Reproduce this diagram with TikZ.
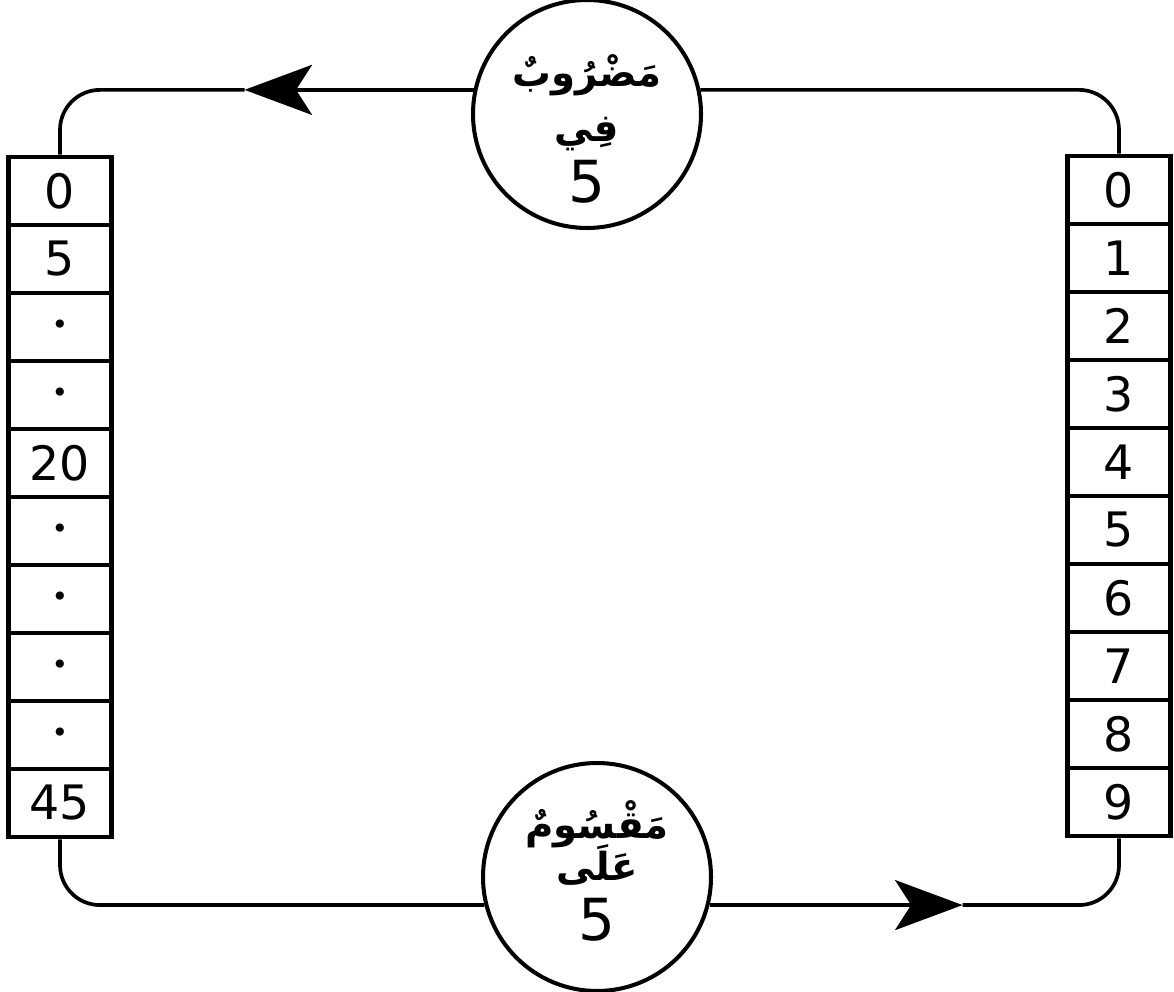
\documentclass[tikz,border=0pt]{standalone}
\usepackage{fontspec}
\setmainfont{DejaVu Sans}
\newfontfamily\arabicfont[Script=Arabic]{DejaVu Sans}
\TeXXeTstate=1
\usetikzlibrary{arrows.meta}

\tikzset{
  cell/.style={draw,line width=2.8pt,minimum width=2.06cm,minimum height=1.36cm,
    inner sep=0pt,font=\fontsize{27}{27}\selectfont},
  op/.style={draw,circle,line width=2.3pt,minimum size=4.56cm,inner sep=0pt},
  optext/.style={align=center,inner sep=0pt,font=\fontsize{22}{30}\selectfont},
  flow/.style={line width=2.1pt,rounded corners=0.8cm},
  tip/.style={-{Stealth[length=1.35cm,width=1cm,inset=0.32cm]}}
}
\newcommand{\arw}[1]{{\arabicfont\bfseries\beginR #1\endR}}
\newcommand{\bignum}[1]{{\fontsize{33}{33}\selectfont #1}}
\newcommand{\gap}{{\fontsize{16}{16}\selectfont •}}

\begin{document}
\begin{tikzpicture}[x=0.2mm,y=-0.2mm]
  \useasboundingbox (0,0) rectangle (1174,992);
  % columns
  \foreach \v [count=\i] in {0,5,\gap,\gap,20,\gap,\gap,\gap,\gap,45}
    \node[cell] (L\i) at (60,{157+68*(\i-.5)}) {\v};
  \foreach \v [count=\i] in {0,...,9}
    \node[cell] (R\i) at (1119,{156+68*(\i-.5)}) {\v};
  % operations
  \node[op] (mul) at (587,114) {};
  \node[optext,yshift=-0.3cm] (mulT) at (mul)
    {\arw{مَضْرُوبٌ}\\[1pt]\arw{فِي}\\[5pt]\bignum{5}};
  \node[op] (div) at (597,877) {};
  \node[optext,yshift=0.12cm] (divT) at (div)
    {\arw{مَقْسُومٌ}\\[-6pt]\arw{عَلَى}\\[4pt]\bignum{5}};
  % loop
  \draw[flow] (mul.12) -| (R1.north);
  \draw[flow,tip] (mul.168) -- ++(-229,0) coordinate (tipT);
  \draw[flow] (tipT) -| (L1.north);
  \draw[flow] (L10.south) |- (div.194);
  \draw[flow,tip] (div.-14) -- ++(253,0) coordinate (tipB);
  \draw[flow] (tipB) -| (R10.south);
\end{tikzpicture}
\end{document}
